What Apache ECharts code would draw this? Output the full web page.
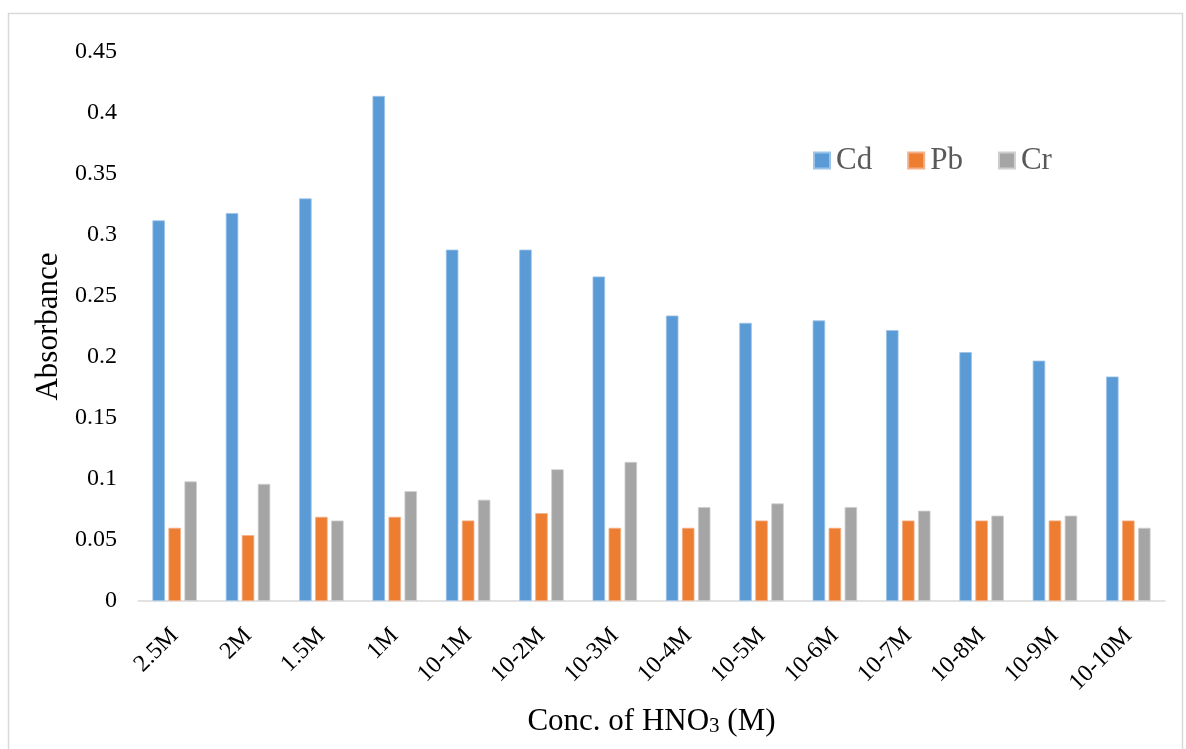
<!DOCTYPE html>
<html>
<head>
<meta charset="utf-8">
<script src="https://cdn.jsdelivr.net/npm/echarts@6/dist/echarts.min.js"></script>
<style>html,body{margin:0;padding:0;background:#fff}#c{width:1186px;height:749px}</style>
</head>
<body>
<div id="c"></div>
<script>
const categories = ['2.5M','2M','1.5M','1M','10-1M','10-2M','10-3M','10-4M','10-5M','10-6M','10-7M','10-8M','10-9M','10-10M'];
const cd = [0.312,0.318,0.330,0.414,0.288,0.288,0.266,0.234,0.228,0.230,0.222,0.204,0.197,0.184];
const pb = [0.060,0.054,0.069,0.069,0.066,0.072,0.060,0.060,0.066,0.060,0.066,0.066,0.066,0.066];
const cr = [0.098,0.096,0.066,0.090,0.083,0.108,0.114,0.077,0.080,0.077,0.074,0.070,0.070,0.060];
const yTicks = [0,0.05,0.1,0.15,0.2,0.25,0.3,0.35,0.4,0.45];

const font = 'Liberation Serif';
const chart = echarts.init(document.getElementById('c'));
function bar(name, data, color, border) {
  return {
    name, type: 'bar', data, barWidth: 12.5, barGap: '28%',
    itemStyle: { color, borderColor: border, borderWidth: 0.8 }
  };
}
chart.setOption({
  animation: false,
  graphic: [{
    type: 'rect', shape: { x: 8.5, y: 13.5, width: 1174, height: 760 },
    style: { fill: 'none', stroke: '#d9d9d9', lineWidth: 1.5 }, silent: true
  }],
  legend: {
    left: 808, top: 140, itemWidth: 16, itemHeight: 16, itemGap: 35,
    icon: 'rect',
    textStyle: { fontFamily: font, fontSize: 31, color: '#595959', padding: [0, 0, 0, 1] },
    data: ['Cd','Pb','Cr']
  },
  grid: { left: 138, right: 21, top: 52, bottom: 148 },
  xAxis: {
    type: 'category', data: categories,
    axisLine: { lineStyle: { color: '#d9d9d9', width: 1.5 } },
    axisTick: { show: false },
    axisLabel: { rotate: 45, fontFamily: font, fontSize: 24, color: '#000', margin: 31, interval: 0 },
    name: '{a|Conc. of HNO}{s|3}{a| (M)}',
    nameLocation: 'middle', nameGap: 100,
    nameTextStyle: {
      rich: {
        a: { fontFamily: font, fontSize: 31, color: '#000', verticalAlign: 'bottom', lineHeight: 36 },
        s: { fontFamily: font, fontSize: 21, color: '#000', verticalAlign: 'bottom', lineHeight: 22 }
      }
    }
  },
  yAxis: {
    type: 'value', min: 0, max: 0.45, interval: 0.05,
    axisLine: { show: false }, axisTick: { show: false },
    splitLine: { show: false },
    axisLabel: {
      fontFamily: font, fontSize: 24, color: '#000', margin: 21,
      formatter: v => { const t = yTicks.find(x => Math.abs(x - v) < 1e-9); return String(t !== undefined ? t : v); }
    },
    name: 'Absorbance', nameLocation: 'middle', nameGap: 72,
    nameTextStyle: { fontFamily: font, fontSize: 31, color: '#000' }
  },
  series: [
    bar('Cd', cd, '#5B9BD5', '#9cc3e8'),
    bar('Pb', pb, '#ED7D31', '#f4b089'),
    bar('Cr', cr, '#A5A5A5', '#cfcfcf')
  ]
});
</script>
</body>
</html>
